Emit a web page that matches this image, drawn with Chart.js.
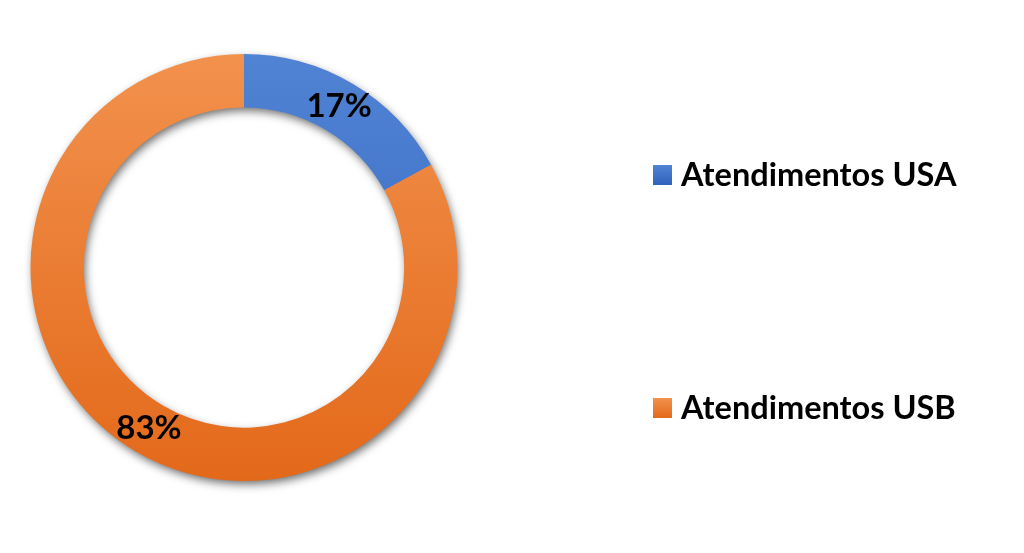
<!DOCTYPE html>
<html>
<head>
<meta charset="utf-8">
<script src="https://cdn.jsdelivr.net/npm/chart.js@4.4.0/dist/chart.umd.min.js"></script>
<style>
  html, body { margin: 0; padding: 0; background: #fff; }
  #wrap { width: 1024px; height: 553px; }
</style>
</head>
<body>
<div id="wrap"><canvas id="chartCanvas" width="1024" height="553"></canvas></div>
<script>
const categories = ['Atendimentos USA', 'Atendimentos USB'];
const shares = [17, 83];
const pctLabels = ['17%', '83%'];

// top / bottom colours of the vertical gradients
const topColors = ['#5183d4', '#f2914d'];
const bottomColors = ['#2f62bd', '#e3691a'];

function sliceFill(context) {
    const chart = context.chart;
    const area = chart.chartArea;
    if (!area) return topColors[context.dataIndex];
    const g = chart.ctx.createLinearGradient(0, area.top, 0, area.bottom);
    g.addColorStop(0, topColors[context.dataIndex]);
    g.addColorStop(1, bottomColors[context.dataIndex]);
    return g;
}

// soft drop shadow of the whole ring, drawn once below the slices
const ringShadow = {
    id: 'ringShadow',
    beforeDatasetsDraw(chart) {
        const arc = chart.getDatasetMeta(0).data[0];
        if (!arc) return;
        const {x, y, innerRadius, outerRadius} = arc.getProps(['x', 'y', 'innerRadius', 'outerRadius'], true);
        const ctx = chart.ctx;
        ctx.save();
        ctx.shadowColor = 'rgba(0,0,0,0.6)';
        ctx.shadowBlur = 10;
        ctx.shadowOffsetX = 2;
        ctx.shadowOffsetY = 4;
        ctx.fillStyle = '#e87a2c';
        ctx.beginPath();
        ctx.arc(x, y, outerRadius - 1, 0, Math.PI * 2);
        ctx.arc(x, y, innerRadius + 1, Math.PI * 2, 0, true);
        ctx.closePath();
        ctx.fill();
        ctx.restore();
    }
};

// percentage labels at the middle of each slice
const sliceLabels = {
    id: 'sliceLabels',
    afterDatasetsDraw(chart) {
        const ctx = chart.ctx;
        ctx.save();
        ctx.font = 'bold 33px Lato';
        ctx.fillStyle = '#000';
        ctx.textAlign = 'center';
        ctx.textBaseline = 'middle';
        chart.getDatasetMeta(0).data.forEach((arc, i) => {
            const p = arc.tooltipPosition();
            ctx.fillText(pctLabels[i], p.x, p.y);
        });
        ctx.restore();
    }
};

// legend on the right, items spread far apart as in the original
const sideLegend = {
    id: 'sideLegend',
    afterDraw(chart) {
        const ctx = chart.ctx;
        const rows = [175, 408];
        ctx.save();
        ctx.font = 'bold 32.5px Lato';
        ctx.textBaseline = 'middle';
        chart.data.labels.forEach((label, i) => {
            const y = rows[i];
            const g = ctx.createLinearGradient(0, y - 10, 0, y + 10);
            g.addColorStop(0, topColors[i]);
            g.addColorStop(1, bottomColors[i]);
            ctx.fillStyle = g;
            ctx.fillRect(653, y - 10, 19, 20);
            ctx.fillStyle = '#000';
            ctx.fillText(label, 681, y + 1);
        });
        ctx.restore();
    }
};

const ctx = document.getElementById('chartCanvas').getContext('2d');

const chart = new Chart(ctx, {
    type: 'doughnut',
    data: {
        labels: categories,
        datasets: [{
            data: shares,
            backgroundColor: sliceFill,
            borderWidth: 0
        }]
    },
    options: {
        responsive: false,
        animation: false,
        cutout: '75%',
        layout: {
            padding: {left: 30, right: 566, top: 54, bottom: 72}
        },
        plugins: {
            legend: {display: false},
            tooltip: {enabled: false}
        }
    },
    plugins: [ringShadow, sliceLabels, sideLegend]
});
</script>
</body>
</html>
